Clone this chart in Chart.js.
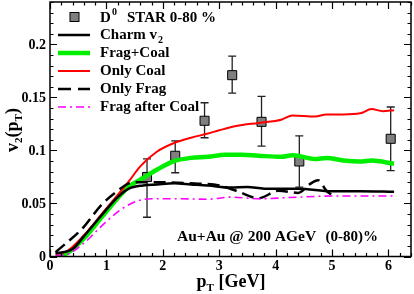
<!DOCTYPE html>
<html>
<head>
<meta charset="utf-8">
<script src="https://cdn.jsdelivr.net/npm/chart.js@4/dist/chart.umd.min.js"></script>
<style>
html,body{margin:0;padding:0;background:#fff;}
#wrap{width:414px;height:294px;position:relative;}
</style>
</head>
<body>
<div id="wrap"><canvas id="c" width="414" height="294"></canvas></div>
<script>
// ---- data ----
const xTicks = [0, 1, 2, 3, 4, 5, 6];
const xTickLabels = ["0", "1", "2", "3", "4", "5", "6"];
const yTicks = [0, 0.05, 0.1, 0.15, 0.2];
const yTickLabels = ["0", "0.05", "0.1", "0.15", "0.2"];

// STAR D0 0-80 %
const starX  = [1.72, 2.22, 2.74, 3.23, 3.75, 4.42, 6.04];
const starY  = [0.075, 0.095, 0.128, 0.171, 0.127, 0.0896, 0.111];
const starHi = [0.092, 0.109, 0.145, 0.189, 0.151, 0.1137, 0.141];
const starLo = [0.037, 0.079, 0.112, 0.154, 0.104, 0.0655, 0.081];

// Charm v2
const charmX = [0.1, 0.4, 0.6, 0.9, 1.2, 1.4, 1.65, 1.9, 2.2, 2.5, 2.8, 3.2, 3.5, 3.8, 4.4, 5.0, 5.5, 6.1];
const charmY = [0.003, 0.007, 0.019, 0.038, 0.056, 0.064, 0.067, 0.068, 0.069, 0.068, 0.067, 0.065, 0.0655, 0.064, 0.064, 0.0615, 0.0615, 0.061];

// Frag+Coal
const fcX = [0.1, 0.3, 0.6, 0.9, 1.2, 1.4, 1.65, 1.9, 2.2, 2.5, 2.8, 3.1, 3.4, 3.7, 4.1, 4.3, 4.7, 4.9, 5.2, 5.5, 5.7, 6.1];
const fcY = [0.001, 0.003, 0.017, 0.036, 0.055, 0.066, 0.074, 0.082, 0.090, 0.093, 0.094, 0.096, 0.096, 0.095, 0.094, 0.0955, 0.092, 0.093, 0.0905, 0.0895, 0.0905, 0.0875];

// Only Coal
const coalX = [0.1, 0.3, 0.6, 0.9, 1.2, 1.4, 1.6, 1.9, 2.2, 2.5, 2.8, 3.0, 3.3, 3.7, 4.1, 4.3, 4.7, 4.9, 5.2, 5.5, 5.7, 5.9, 6.1];
const coalY = [0.002, 0.005, 0.020, 0.039, 0.058, 0.071, 0.085, 0.099, 0.107, 0.112, 0.116, 0.119, 0.123, 0.126, 0.129, 0.133, 0.132, 0.134, 0.134, 0.135, 0.139, 0.137, 0.138];

// Only Frag
const fragX = [0.1, 0.6, 0.9, 1.2, 1.4, 1.6, 2.0, 2.5, 3.0, 3.3, 3.7, 4.05, 4.4, 4.6, 4.75, 4.9, 5.0];
const fragY = [0.004, 0.028, 0.048, 0.062, 0.069, 0.070, 0.070, 0.069, 0.067, 0.062, 0.055, 0.062, 0.060, 0.068, 0.072, 0.062, 0.058];

// Frag after Coal
const facX = [0.1, 0.3, 0.6, 0.9, 1.2, 1.5, 1.8, 2.2, 2.8, 3.2, 3.7, 4.4, 5.0, 5.6, 6.1];
const facY = [0.001, 0.002, 0.0125, 0.028, 0.042, 0.0515, 0.0545, 0.0545, 0.054, 0.056, 0.0545, 0.056, 0.057, 0.057, 0.057];

const pts = (xs, ys) => xs.map((x, i) => ({x: x, y: ys[i]}));

const SERIF = '"Liberation Serif", "DejaVu Serif", serif';
const font = (sz) => 'bold ' + sz + 'px ' + SERIF;

// ---- plugin: frame, inward ticks, tick labels, error bars, legend, titles ----
const decor = {
  id: 'decor',
  beforeDatasetsDraw(chart) {
    const ctx = chart.ctx, xs = chart.scales.x, ys = chart.scales.y;
    ctx.save();
    ctx.strokeStyle = '#222';
    ctx.lineWidth = 1.3;
    for (let i = 0; i < starX.length; i++) {
      const px = xs.getPixelForValue(starX[i]);
      const top = ys.getPixelForValue(starHi[i]);
      const bot = ys.getPixelForValue(starLo[i]);
      ctx.beginPath();
      ctx.moveTo(px, top); ctx.lineTo(px, bot);
      ctx.moveTo(px - 4, top); ctx.lineTo(px + 4, top);
      ctx.moveTo(px - 4, bot); ctx.lineTo(px + 4, bot);
      ctx.stroke();
    }
    ctx.restore();
  },
  afterDraw(chart) {
    const ctx = chart.ctx, a = chart.chartArea, xs = chart.scales.x, ys = chart.scales.y;
    ctx.save();
    // frame
    ctx.strokeStyle = '#000';
    ctx.lineWidth = 1.5;
    ctx.strokeRect(a.left, a.top, a.right - a.left, a.bottom - a.top);
    // inward ticks
    ctx.lineWidth = 1.2;
    ctx.beginPath();
    for (let k = 0; k <= 32; k++) {
      const v = k * 0.2;
      const px = Math.round(xs.getPixelForValue(v)) + 0.5;
      const len = (k % 5 === 0) ? 7 : 3.5;
      ctx.moveTo(px, a.bottom); ctx.lineTo(px, a.bottom - len);
      ctx.moveTo(px, a.top); ctx.lineTo(px, a.top + len);
    }
    for (let k = 0; k <= 24; k++) {
      const v = k * 0.01;
      const py = Math.round(ys.getPixelForValue(v)) + 0.5;
      const len = (k % 5 === 0) ? 7 : 3.5;
      ctx.moveTo(a.left, py); ctx.lineTo(a.left + len, py);
      ctx.moveTo(a.right, py); ctx.lineTo(a.right - len, py);
    }
    ctx.stroke();

    // tick labels
    ctx.fillStyle = '#000';
    ctx.font = font(14);
    ctx.textAlign = 'center';
    ctx.textBaseline = 'top';
    xTicks.forEach((v, i) => ctx.fillText(xTickLabels[i], xs.getPixelForValue(v), a.bottom + 3));
    ctx.textAlign = 'right';
    ctx.textBaseline = 'middle';
    yTicks.forEach((v, i) => ctx.fillText(yTickLabels[i], a.left - 4, ys.getPixelForValue(v) + 1));

    // legend
    ctx.textBaseline = 'middle';
    ctx.textAlign = 'left';
    const rows = [17, 35, 53, 71, 89, 107];
    const lx0 = 58, lx1 = 90, tx = 100;
    ctx.fillStyle = '#7f7f7f';
    ctx.fillRect(70, rows[0] - 4.5, 9, 9);
    ctx.strokeStyle = '#000'; ctx.lineWidth = 1; ctx.setLineDash([]);
    ctx.strokeRect(70, rows[0] - 4.5, 9, 9);
    const sample = (y, color, w, dash) => {
      ctx.beginPath();
      ctx.strokeStyle = color; ctx.lineWidth = w; ctx.setLineDash(dash);
      ctx.moveTo(lx0, y); ctx.lineTo(lx1, y); ctx.stroke();
    };
    sample(rows[1], '#000', 2.5, []);
    sample(rows[2], '#00ee00', 4.5, []);
    sample(rows[3], '#ff0000', 2, []);
    sample(rows[4], '#000', 2.5, [13, 7]);
    sample(rows[5], '#ff00ff', 1.6, [8, 4, 2, 4]);
    ctx.setLineDash([]);
    ctx.fillStyle = '#000';
    ctx.font = font(15);
    ctx.fillText('D', tx, rows[0] + 1);
    ctx.font = font(10);
    ctx.fillText('0', tx + 12, rows[0] - 5);
    ctx.font = font(15);
    ctx.fillText('STAR 0-80 %', 127, rows[0] + 1);
    ctx.fillText('Charm v', tx, rows[1]);
    let w = ctx.measureText('Charm v').width;
    ctx.font = font(10);
    ctx.fillText('2', tx + w + 1, rows[1] + 5);
    ctx.font = font(15);
    ctx.fillText('Frag+Coal', tx, rows[2]);
    ctx.fillText('Only Coal', tx, rows[3]);
    ctx.fillText('Only Frag', tx, rows[4]);
    ctx.fillText('Frag after Coal', tx, rows[5]);

    // annotation
    ctx.font = font(15.5);
    ctx.textAlign = 'left';
    ctx.fillText('Au+Au @ 200 AGeV', 177, 237);
    ctx.font = font(15);
    ctx.textAlign = 'right';
    ctx.fillText('(0-80)%', 378, 237);
    ctx.textAlign = 'left';

    // axis titles
    const measure = (parts) => {
      let total = 0;
      parts.forEach(p => { ctx.font = font(p[1]); p.w = ctx.measureText(p[0]).width; total += p.w; });
      return total;
    };
    ctx.textBaseline = 'alphabetic';
    const xp = [['p', 18, 0], ['T', 11, 4], [' [GeV]', 18, 0]];
    let tot = measure(xp);
    let cx = 231 - tot / 2;
    xp.forEach(p => { ctx.font = font(p[1]); ctx.fillText(p[0], cx, 287 + p[2]); cx += p.w; });

    ctx.save();
    ctx.translate(18, 130);
    ctx.rotate(-Math.PI / 2);
    const yp = [['v', 18, 0], ['2', 11, 4], ['(p', 18, 0], ['T', 11, 4], [')', 18, 0]];
    tot = measure(yp);
    cx = -tot / 2;
    yp.forEach(p => { ctx.font = font(p[1]); ctx.fillText(p[0], cx, p[2]); cx += p.w; });
    ctx.restore();

    ctx.restore();
  }
};

const lineDs = (label, xs, ys, color, width, dash, order) => ({
  type: 'line', label: label, data: pts(xs, ys),
  borderColor: color, backgroundColor: color, borderWidth: width,
  borderDash: dash, pointRadius: 0, fill: false,
  cubicInterpolationMode: 'monotone', order: order
});

new Chart(document.getElementById('c'), {
  type: 'scatter',
  data: {
    datasets: [
      lineDs('Frag after Coal', facX, facY, '#ff00ff', 1.6, [8, 4, 2, 4], 1),
      lineDs('Only Frag', fragX, fragY, '#000000', 2.5, [12, 6], 2),
      lineDs('Charm v2', charmX, charmY, '#000000', 2.5, [], 3),
      lineDs('Only Coal', coalX, coalY, '#ff0000', 2, [], 4),
      lineDs('Frag+Coal', fcX, fcY, '#00ee00', 4.5, [], 5),
      {
        type: 'scatter', label: 'D0 STAR 0-80 %', data: pts(starX, starY),
        pointStyle: 'rect', pointRadius: 6.4, pointBackgroundColor: '#7f7f7f',
        pointBorderColor: '#000', pointBorderWidth: 1, order: 10
      }
    ]
  },
  options: {
    responsive: false, animation: false,
    layout: {autoPadding: false, padding: {top: 2, right: 3, left: 0, bottom: 0}},
    plugins: {legend: {display: false}, tooltip: {enabled: false}},
    scales: {
      x: {
        type: 'linear', min: 0, max: 6.4,
        grid: {display: false, drawTicks: false},
        border: {display: false},
        ticks: {display: false},
        afterFit: (s) => { s.height = 37.5; }
      },
      y: {
        type: 'linear', min: 0, max: 0.24,
        grid: {display: false, drawTicks: false},
        border: {display: false},
        ticks: {display: false},
        afterFit: (s) => { s.width = 50; }
      }
    }
  },
  plugins: [decor]
});
</script>
</body>
</html>
